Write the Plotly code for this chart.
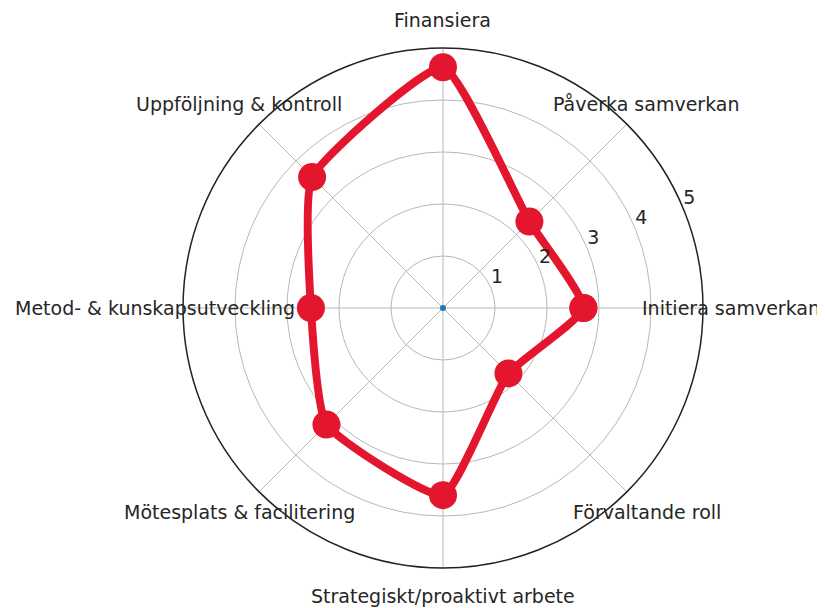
import math
import plotly.graph_objects as go

# categories in matplotlib order: start at 0 deg (east), counterclockwise
categories = [
    "Initiera samverkan",
    "Påverka samverkan",
    "Finansiera",
    "Uppföljning & kontroll",
    "Metod- & kunskapsutveckling",
    "Mötesplats & facilitering",
    "Strategiskt/proaktivt arbete",
    "Förvaltande roll",
]
scores = [2.7, 2.35, 4.63, 3.56, 2.54, 3.17, 3.6, 1.78]
radial_ticks = [1, 2, 3, 4, 5]

RED = "#e3162d"
FONT = "DejaVu Sans"
TEXT = "#262626"
GRID = "#b8b8b8"
W, H = 825, 608
# centre and outer radius in figure pixels (page has an 8px body margin)
CX, CY, R = 435, 300, 260

n = len(categories)
angles = [360 * i / n for i in range(n)]

fig = go.Figure()

# closed profile
fig.add_trace(go.Scatterpolar(
    r=scores + scores[:1],
    theta=angles + angles[:1],
    mode="lines+markers",
    line=dict(color=RED, width=8, shape="spline", smoothing=0.45),
    marker=dict(color=RED, size=28),
    showlegend=False,
    hoverinfo="skip",
))

# small blue dot at the origin
fig.add_trace(go.Scatterpolar(
    r=[0], theta=[0],
    mode="markers",
    marker=dict(color="#1f77b4", size=6),
    showlegend=False,
))

# radial tick labels at 22.5 deg, left/bottom aligned like matplotlib
fig.add_trace(go.Scatterpolar(
    r=radial_ticks,
    theta=[22.5] * len(radial_ticks),
    mode="text",
    text=[str(t) for t in radial_ticks],
    textposition="top right",
    textfont=dict(family=FONT, size=19, color=TEXT),
    cliponaxis=False,
    showlegend=False,
    hoverinfo="skip",
))

# category labels centred just outside the outer ring, like matplotlib
label_r = 288
annotations = []
for ang_deg, name in zip(angles, categories):
    ang = math.radians(ang_deg)
    px_x = CX + label_r * math.cos(ang)
    px_y = CY - label_r * math.sin(ang)
    annotations.append(dict(
        x=px_x / W, y=1 - px_y / H, xref="paper", yref="paper",
        text=name, showarrow=False, xanchor="center", yanchor="middle",
        font=dict(family=FONT, size=19, color=TEXT),
    ))

fig.update_layout(
    width=W,
    height=H,
    margin=dict(l=0, r=0, t=0, b=0),
    paper_bgcolor="white",
    font=dict(family=FONT, size=19, color=TEXT),
    annotations=annotations,
    polar=dict(
        domain=dict(
            x=[(CX - R) / W, (CX + R) / W],
            y=[1 - (CY + R) / H, 1 - (CY - R) / H],
        ),
        bgcolor="white",
        radialaxis=dict(
            range=[0, 5],
            tickvals=radial_ticks,
            showticklabels=False,
            showline=False,
            ticks="",
            gridcolor=GRID,
            gridwidth=1.3,
        ),
        angularaxis=dict(
            rotation=0,
            direction="counterclockwise",
            tickmode="array",
            tickvals=angles,
            showticklabels=False,
            ticks="",
            gridcolor=GRID,
            gridwidth=1.3,
            showline=True,
            linecolor="#222222",
            linewidth=1.5,
        ),
    ),
)

fig.write_html("out.html")
